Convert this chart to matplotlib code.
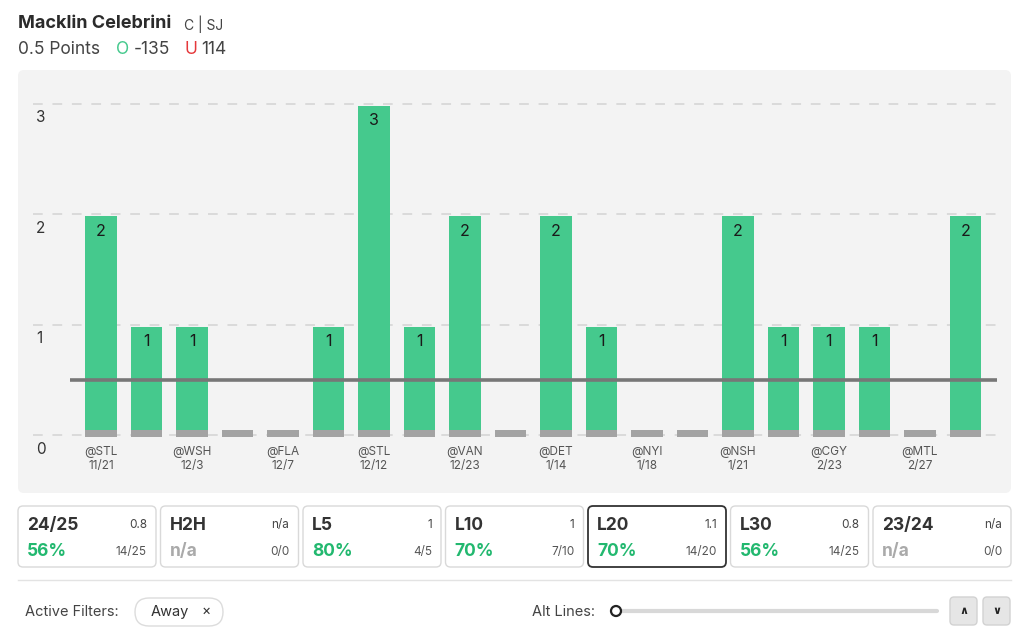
import matplotlib.pyplot as plt
from matplotlib.patches import FancyBboxPatch, Circle

plt.rcParams['font.family'] = ['Inter', 'DejaVu Sans']

# game log (away games), points per game
opponents = ["@STL", "", "@WSH", "", "@FLA", "", "@STL", "", "@VAN", "",
             "@DET", "", "@NYI", "", "@NSH", "", "@CGY", "", "@MTL", ""]
dates = ["11/21", "", "12/3", "", "12/7", "", "12/12", "", "12/23", "",
         "1/14", "", "1/18", "", "1/21", "", "2/23", "", "2/27", ""]
points = [2, 1, 1, 0, 0, 1, 3, 1, 2, 0, 2, 1, 0, 0, 2, 1, 1, 1, 0, 2]
prop_line = 0.5

# summary cards
card_titles = ["24/25", "H2H", "L5", "L10", "L20", "L30", "23/24"]
card_avgs = ["0.8", "n/a", "1", "1", "1.1", "0.8", "n/a"]
card_pcts = ["56%", "n/a", "80%", "70%", "70%", "56%", "n/a"]
card_fracs = ["14/25", "0/0", "4/5", "7/10", "14/20", "14/25", "0/0"]
selected = "L20"

GREEN = "#45c98d"
TXTGREEN = "#22b86f"
STUB = "#a3a3a3"

fig = plt.figure(figsize=(10.24, 6.34), dpi=100)
fig.patch.set_facecolor("white")

# overlay in pixel coordinates for the page furniture
bg = fig.add_axes([0, 0, 1, 1], zorder=0)
bg.set_xlim(0, 1024)
bg.set_ylim(634, 0)
bg.axis("off")

bg.add_patch(FancyBboxPatch((18, 70), 993, 423, boxstyle="round,pad=0,rounding_size=6",
                            fc="#f3f3f3", ec="none"))

# header
bg.text(18, 23, "Macklin Celebrini", fontsize=13, fontweight="bold", color="#2b2b2b", va="center")
bg.text(184, 24, "C | SJ", fontsize=10, color="#444", va="center")
bg.text(18, 50, "0.5 Points", fontsize=12.5, color="#444", va="center")
bg.text(116, 50, "O", fontsize=12.5, color=GREEN, va="center")
bg.text(134, 50, "-135", fontsize=12.5, color="#444", va="center")
bg.text(185, 50, "U", fontsize=12.5, color="#e5383b", va="center")
bg.text(201, 50, "114", fontsize=12.5, color="#444", va="center")

# cards
x0, w, gap = 18, 138, 4.5
for i, t in enumerate(card_titles):
    left = x0 + i * (w + gap)
    sel = t == selected
    bg.add_patch(FancyBboxPatch((left, 506), w, 61, boxstyle="round,pad=0,rounding_size=5",
                                fc="white", ec="#333" if sel else "#d9d9d9",
                                lw=1.3 if sel else 1.0))
    bg.text(left + 9, 525, t, fontsize=12.5, fontweight="bold", color="#333", va="center")
    bg.text(left + w - 9, 525, card_avgs[i], fontsize=8.5, color="#444", va="center", ha="right")
    na = card_pcts[i] == "n/a"
    bg.text(left + 9, 551, card_pcts[i], fontsize=12.5, fontweight="bold",
            color="#aaaaaa" if na else TXTGREEN, va="center")
    bg.text(left + w - 9, 552, card_fracs[i], fontsize=8.5, color="#555", va="center", ha="right")

bg.plot([18, 1011], [580, 580], color="#e3e3e3", lw=1)

# filters row
bg.text(25, 612, "Active Filters:", fontsize=10.5, color="#444", va="center")
bg.add_patch(FancyBboxPatch((135, 598), 88, 28, boxstyle="round,pad=0,rounding_size=14",
                            fc="white", ec="#dcdcdc", lw=1))
bg.text(151, 612, "Away", fontsize=10.5, color="#333", va="center")
bg.text(206, 611, "×", fontsize=10, color="#333", va="center", ha="center")
bg.text(532, 612, "Alt Lines:", fontsize=10.5, color="#444", va="center")
bg.plot([621, 937], [611, 611], color="#d8d8d8", lw=3, solid_capstyle="round")
bg.add_patch(Circle((616, 611), 5, fc="white", ec="#222", lw=1.6, zorder=5))
for bx, sym in [(950, "∧"), (983, "∨")]:
    bg.add_patch(FancyBboxPatch((bx, 597), 27, 28, boxstyle="round,pad=0,rounding_size=4",
                                fc="#e6e6e6", ec="#d2d2d2", lw=1))
    bg.text(bx + 13.5, 611, sym, fontsize=8, fontweight="bold", color="#222",
            ha="center", va="center", family="DejaVu Sans")

# chart
ax = fig.add_axes([33 / 1024, 164 / 634, 967 / 1024, 375 / 634], zorder=1)
ax.set_facecolor("none")
n = len(points)
xs = list(range(n))
ax.set_xlim(-1.495, 19.76)
ax.set_ylim(-0.317, 3.08)
for s in ax.spines.values():
    s.set_visible(False)
ax.set_xticks([])
ax.set_yticks([])

for v in range(4):
    ax.axhline(v, color="#dadada", lw=1.4, dashes=(5, 5), zorder=0)
    ax.text(-1.43, v - 0.127, str(v), fontsize=11, color="#333", va="center", ha="left")

bw = 0.7
ax.bar(xs, points, width=bw, bottom=-0.018, color=GREEN, zorder=2)
ax.bar(xs, [0.063] * n, width=bw, bottom=-0.018, color=STUB, zorder=3)

for x, p in zip(xs, points):
    if p > 0:
        ax.text(x, p - 0.155, str(p), fontsize=11.5, color="#1a1a1a", ha="center", va="center", zorder=4)

for x, o, d in zip(xs, opponents, dates):
    if o:
        ax.text(x, -0.155, o, fontsize=8.5, color="#555", ha="center", va="center")
        ax.text(x, -0.282, d, fontsize=8.5, color="#555", ha="center", va="center")

ax.hlines(prop_line, -0.68, n - 0.31, color="#777", lw=2.6, zorder=5)

fig.savefig("out.png", dpi=100)
